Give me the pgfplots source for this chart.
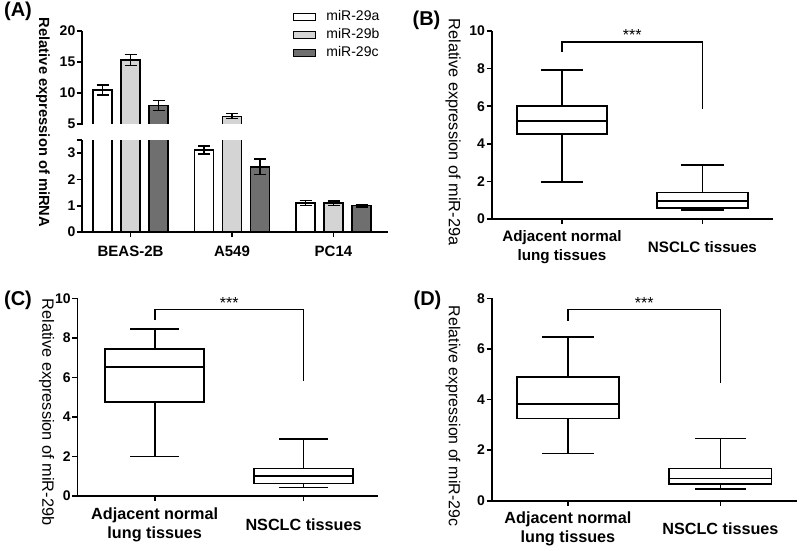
\documentclass[border=0pt]{standalone}
\usepackage{fontspec}
\setmainfont{Liberation Sans}
\usepackage{pgfplots}
\pgfplotsset{compat=1.18}
\usepgfplotslibrary{statistics}

\definecolor{mirb}{HTML}{D4D4D4}
\definecolor{mirc}{HTML}{6F6F6F}

\pgfplotsset{
  prism/.style={
    scale only axis, anchor=south west,
    axis x line*=bottom, axis y line*=left,
    axis line style={-, line width=1.6pt},
    major tick style={line width=1.6pt, black},
    major tick length=5pt,
    tick align=outside,
    /pgf/number format/assume math mode=true,
    ticklabel style={font=\fontsize{14}{16}\selectfont\bfseries},
    yticklabel style={inner sep=1.5pt},
  },
  bars/.style={ybar=9pt, bar width=19pt},
  errs/.style={error bars/.cd, y dir=both, y explicit,
    error bar style={line width=1.2pt, black},
    error mark options={rotate=90, mark size=6pt, line width=1.2pt, black}},
  boxln/.style={draw=black, line width=1.6pt, boxplot/draw direction=y},
  sig/.style={black, line width=1.6pt, mark=none},
}

\begin{document}
\begin{tikzpicture}
\useasboundingbox (0,0) rectangle (800pt,550pt);

% (A) lower part, 0 to 3.5
\begin{axis}[prism, bars,
  at={(82pt,318pt)}, width=306pt, height=92pt,
  xmin=-0.478, xmax=2.537, ymin=0, ymax=3.5,
  ytick={0,1,2,3,3.5}, yticklabels={0,1,2,3,{}},
  xtick={0,1,2}, xticklabels={BEAS-2B,A549,PC14},
  xticklabel style={anchor=center, yshift=-14pt, font=\fontsize{15}{17}\selectfont\bfseries}]
\addplot[fill=white, draw=black, line width=1.5pt, errs] coordinates {(0,10.5) +- (0,0.8) (1,3.12) +- (0,0.15) (2,1.1) +- (0,0.1)};
\addplot[fill=mirb, draw=black, line width=1.5pt, errs] coordinates {(0,15.3) +- (0,0.9) (1,6.25) +- (0,0.4) (2,1.1) +- (0,0.08)};
\addplot[fill=mirc, draw=black, line width=1.5pt, errs] coordinates {(0,8.0) +- (0,0.75) (1,2.48) +- (0,0.3) (2,1.0) +- (0,0.05)};
\end{axis}

% (A) upper part, 5 to 20 (only the values above the break)
\begin{axis}[prism, bars,
  at={(82pt,425pt)}, width=306pt, height=94pt,
  xmin=-0.478, xmax=2.537, ymin=4.85, ymax=20,
  ytick={5,10,15,20}, axis x line=none, xtick=\empty,
  legend style={at={(0.689,1.23)}, anchor=north west, draw=none, fill=none,
    inner sep=0pt, row sep=3pt, font=\fontsize{14}{16}\selectfont,
    nodes={text height=10pt, text depth=3pt, inner sep=1pt}},
  legend cell align=left,
  legend image code/.code={\draw[#1, line width=1.4pt] (0pt,-3.5pt) rectangle (22pt,3.5pt);},
  /tikz/every odd column/.append style={column sep=9pt}]
\addplot[fill=white, draw=black, line width=1.5pt, errs] coordinates {(0,10.5) +- (0,0.8)};
\addplot[fill=mirb, draw=black, line width=1.5pt, errs] coordinates {(0,15.3) +- (0,0.9) (1,6.25) +- (0,0.4)};
\addplot[fill=mirc, draw=black, line width=1.5pt, errs] coordinates {(0,8.0) +- (0,0.75)};
\legend{miR-29a,miR-29b,miR-29c}
\end{axis}
% white gap of the axis break: the bars stay open on both sides of it
\fill[white] (84pt,411pt) rectangle (390pt,426.4pt);

% (B)
\begin{axis}[prism, clip=false,
  at={(491.7pt,331pt)}, width=281pt, height=188pt,
  xmin=0.5, xmax=2.5, ymin=0, ymax=10, ytick={0,2,...,10},
  xtick={1,2}, xticklabels={{Adjacent normal\\lung tissues},{NSCLC tissues}},
  xticklabel style={align=center, anchor=center, yshift=-23.5pt, font=\fontsize{15.2}{19}\selectfont\bfseries}]
\addplot[boxln, boxplot prepared={lower whisker=1.97, lower quartile=4.52, median=5.21,
  upper quartile=6.01, upper whisker=7.93, draw position=1, box extend=0.64, whisker extend=0.3}] coordinates {};
\addplot[boxln, boxplot prepared={lower whisker=0.48, lower quartile=0.60, median=0.97,
  upper quartile=1.40, upper whisker=2.87, draw position=2, box extend=0.65, whisker extend=0.3}] coordinates {};
\addplot[sig] coordinates {(1,8.9) (1,9.43) (2,9.43) (2,5.83)};
\node[anchor=base, font=\fontsize{16}{16}\selectfont] at (axis cs:1.5,9.5) {***};
\end{axis}

% (C)
\begin{axis}[prism, clip=false,
  at={(77.3pt,54pt)}, width=300.7pt, height=197.7pt,
  xmin=0.48, xmax=2.5, ymin=0, ymax=10, ytick={0,2,...,10},
  xtick={1,2}, xticklabels={{Adjacent normal\\lung tissues},{NSCLC tissues}},
  xticklabel style={align=center, anchor=center, yshift=-24pt, font=\fontsize{16.2}{19}\selectfont\bfseries}]
\addplot[boxln, boxplot prepared={lower whisker=1.99, lower quartile=4.77, median=6.54,
  upper quartile=7.45, upper whisker=8.45, draw position=1, box extend=0.664, whisker extend=0.33}] coordinates {};
\addplot[boxln, boxplot prepared={lower whisker=0.44, lower quartile=0.64, median=1.01,
  upper quartile=1.40, upper whisker=2.88, draw position=2, box extend=0.664, whisker extend=0.33}] coordinates {};
\addplot[sig] coordinates {(1,8.9) (1,9.44) (2,9.44) (2,5.82)};
\node[anchor=base, font=\fontsize{16}{16}\selectfont] at (axis cs:1.5,9.5) {***};
\end{axis}

% (D)
\begin{axis}[prism, clip=false,
  at={(491.7pt,49.3pt)}, width=305pt, height=202.4pt,
  xmin=0.5, xmax=2.5, ymin=0, ymax=8, ytick={0,2,...,8},
  xtick={1,2}, xticklabels={{Adjacent normal\\lung tissues},{NSCLC tissues}},
  xticklabel style={align=center, anchor=center, yshift=-23pt, font=\fontsize{16.2}{19}\selectfont\bfseries}]
\addplot[boxln, boxplot prepared={lower whisker=1.87, lower quartile=3.25, median=3.82,
  upper quartile=4.90, upper whisker=6.46, draw position=1, box extend=0.672, whisker extend=0.336}] coordinates {};
\addplot[boxln, boxplot prepared={lower whisker=0.46, lower quartile=0.65, median=0.87,
  upper quartile=1.28, upper whisker=2.46, draw position=2, box extend=0.672, whisker extend=0.336}] coordinates {};
\addplot[sig] coordinates {(1,7.11) (1,7.56) (2,7.56) (2,4.64)};
\node[anchor=base, font=\fontsize{16}{16}\selectfont] at (axis cs:1.5,7.6) {***};
\end{axis}

% axis titles and panel letters
\node[rotate=-90, font=\fontsize{14.7}{16}\selectfont\bfseries] at (43pt,427.5pt) {Relative expression of miRNA};
\node[rotate=-90, font=\fontsize{16.3}{18}\selectfont] at (453pt,418pt) {Relative expression of miR-29a};
\node[rotate=-90, font=\fontsize{16.3}{18}\selectfont] at (46.7pt,138pt) {Relative expression of miR-29b};
\node[rotate=-90, font=\fontsize{15.9}{18}\selectfont] at (453pt,134pt) {Relative expression of miR-29c};
\node[font=\fontsize{20}{22}\selectfont\bfseries] at (18pt,538.5pt) {(A)};
\node[font=\fontsize{20}{22}\selectfont\bfseries] at (426.5pt,530pt) {(B)};
\node[font=\fontsize{20}{22}\selectfont\bfseries] at (18pt,250pt) {(C)};
\node[font=\fontsize{20}{22}\selectfont\bfseries] at (427.5pt,250pt) {(D)};
\end{tikzpicture}
\end{document}
